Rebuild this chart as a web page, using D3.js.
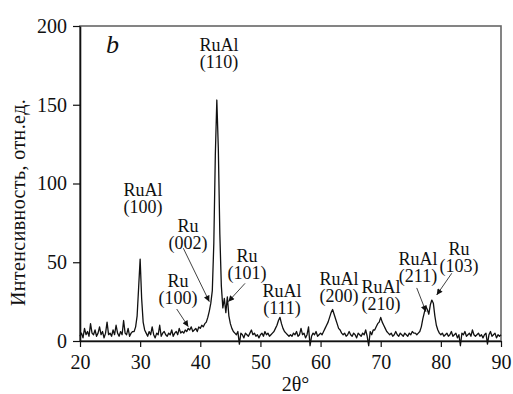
<!DOCTYPE html>
<html>
<head>
<meta charset="utf-8">
<script src="https://cdn.jsdelivr.net/npm/d3@7"></script>
<style>
  body { margin: 0; background: #fff; }
</style>
</head>
<body>
<figure id="xrd" style="margin:0"></figure>
<script>
// scan grid: 20..90 deg, step 0.25
const scanStart = 20, scanStep = 0.25;
// intensity, one row per degree (4 points each)
const intensity = [
  3, 5, 2, 8,      4, 6, 3, 11,     5, 4, 7, 3,      5, 9, 4, 6,      // 20-23
  2, 5, 12, 4,     5, 3, 7, 4,      10, 5, 3, 6,     4, 13, 5, 4,     // 24-27
  8, 3, 5, 6,      6, 9, 16, 34,    52, 27, 12, 7,   5, 3, 6, 4,      // 28-31
  9, 4, 2, 5,      4, 10, 3, 5,     6, 4, 3, 5,      4, 7, 3, 5,      // 32-35
  6, 4, 8, 5,      6, 5, 7, 6,      8, 7, 9, 6,      7, 8, 6, 9,      // 36-39
  8, 10, 9, 11,    12, 15, 19, 24,  32, 62, 118, 153, 122, 68, 35, 21, // 40-43
  27, 18, 28, 16,  11, 8, 6, 5,     4, 6, -2, 5,     4, 2, 5, 4,      // 44-47
  3, 5, 7, 4,      5, 3, 4, 2,      4, 5, 3, 6,      4, 5, 3, 4,      // 48-51
  5, 6, 8, 10,     13, 15, 11, 8,   6, 5, 4, 3,      4, 3, 5, 4,      // 52-55
  6, 3, 4, 8,      4, 5, 2, 4,      9, -3, 3, 5,     4, 6, 3, 4,      // 56-59
  5, 4, 6, 8,      10, 12, 15, 18,  20, 17, 14, 11,  8, 7, 5, 4,      // 60-63
  5, 3, 4, 6,      4, 3, 5, 4,      2, 5, 4, 3,      5, 4, 7, 3,      // 64-67
  -3, 6, 4, 7,     7, 9, 11, 12,    15, 12, 10, 8,   6, 5, 4, 5,      // 68-71
  3, 4, 6, 4,      3, 5, 4, 3,      5, 4, 3, 5,      4, 6, 5, 5,      // 72-75
  4, 5, 6, 9,      14, 18, 22, 20,  17, 23, 26, 24,  16, 10, 7, 5,    // 76-79
  4, 5, 3, 4,      5, 3, 4, 6,      3, 4, 5, 2,      4, -3, 5, 4,     // 80-83
  6, 3, 4, 5,      3, 7, 4, 3,      4, 5, 3, 4,      2, 4, 5, -2,     // 84-87
  4, 6, 3, 4,      5, 2, 4, 3,      4                                 // 88-90
];

const xTicks = [20, 30, 40, 50, 60, 70, 80, 90];
const yTicks = [0, 50, 100, 150, 200];

// peak annotations
const peakPhase = ['RuAl', 'RuAl', 'Ru', 'Ru', 'Ru', 'RuAl', 'RuAl', 'RuAl', 'RuAl', 'Ru'];
const peakHkl   = ['(100)', '(110)', '(100)', '(002)', '(101)', '(111)', '(200)', '(210)', '(211)', '(103)'];
// label anchor (2θ, intensity) of first line baseline
const labelAt = [[30.48, 92], [43.11, 184], [36.3, 34.5], [37.96, 69.5], [47.77, 50.3],
                 [53.59, 28.1], [63.07, 35.6], [70.05, 30.3], [76.2, 48.3], [83.02, 54.6]];
// leader arrows: [from 2θ, from I, to 2θ, to I], null = no arrow
const arrowAt = [null, null, [36.08, 20.3, 38.01, 9.1], [37.18, 58.9, 41.5, 25],
                 [47.44, 36.6, 44.66, 25], null, null, null,
                 [75.99, 33.7, 77.53, 18.6], [81.81, 43, 79.31, 29.2]];

const W = 513, H = 394;
const m = { left: 80, right: 12, top: 26, bottom: 53 };
const FONT = 'Liberation Serif';

const data = intensity.map((v, i) => ({ tt: scanStart + i * scanStep, v }));

const svg = d3.select('#xrd').append('svg')
  .attr('width', W).attr('height', H);

const x = d3.scaleLinear().domain([20, 90]).range([m.left, W - m.right]);
const y = d3.scaleLinear().domain([0, 200]).range([H - m.bottom, m.top]);

// frame (top/right)
svg.append('rect')
  .attr('x', x(20)).attr('y', y(200))
  .attr('width', x(90) - x(20)).attr('height', y(0) - y(200))
  .attr('fill', 'none').attr('stroke', '#666').attr('stroke-width', 1.6);

// pattern
svg.append('path')
  .datum(data)
  .attr('fill', 'none')
  .attr('stroke', '#111')
  .attr('stroke-width', 1.3)
  .attr('stroke-linejoin', 'round')
  .attr('d', d3.line().x(d => x(d.tt)).y(d => y(d.v)));

// axes
const xAxis = svg.append('g')
  .attr('transform', `translate(0,${y(0)})`)
  .call(d3.axisBottom(x).tickValues(xTicks).tickSize(6).tickPadding(8).tickSizeOuter(0));
const yAxis = svg.append('g')
  .attr('transform', `translate(${x(20)},0)`)
  .call(d3.axisLeft(y).tickValues(yTicks).tickSize(7).tickPadding(6).tickSizeOuter(0));

[xAxis, yAxis].forEach(g => {
  g.attr('font-family', FONT).attr('font-size', 20);
  g.select('.domain').attr('stroke', '#111').attr('stroke-width', 1.6);
  g.selectAll('.tick line').attr('stroke', '#111').attr('stroke-width', 1.2);
  g.selectAll('.tick text').attr('fill', '#111');
});

// axis titles
svg.append('text')
  .attr('x', (x(20) + x(90)) / 2 + 5).attr('y', 391)
  .attr('text-anchor', 'middle')
  .attr('font-family', FONT).attr('font-size', 20).attr('fill', '#111')
  .text('2θ°');

svg.append('text')
  .attr('transform', `translate(25,${(y(0) + y(200)) / 2 + 19}) rotate(-90)`)
  .attr('text-anchor', 'middle')
  .attr('font-family', FONT).attr('font-size', 20).attr('letter-spacing', 0.4)
  .attr('fill', '#111')
  .text('Интенсивность, отн.ед.');

// panel letter
svg.append('text')
  .attr('x', 106).attr('y', 53)
  .attr('font-family', FONT).attr('font-size', 26).attr('font-style', 'italic')
  .attr('fill', '#111')
  .text('b');

// arrowhead
svg.append('defs').append('marker')
  .attr('id', 'head')
  .attr('viewBox', '0 0 10 10')
  .attr('refX', 10).attr('refY', 5)
  .attr('markerWidth', 7).attr('markerHeight', 6)
  .attr('markerUnits', 'userSpaceOnUse')
  .attr('orient', 'auto')
  .append('path').attr('d', 'M0,0 L10,5 L0,10 Z').attr('fill', '#111');

peakPhase.forEach((p, i) => {
  const [lx, ly] = labelAt[i];
  const t = svg.append('text')
    .attr('x', x(lx)).attr('y', y(ly))
    .attr('text-anchor', 'middle')
    .attr('font-family', FONT).attr('font-size', 18).attr('fill', '#111');
  t.append('tspan').attr('x', x(lx)).text(p);
  t.append('tspan').attr('x', x(lx)).attr('dy', 17).text(peakHkl[i]);

  const a = arrowAt[i];
  if (a) {
    svg.append('line')
      .attr('x1', x(a[0])).attr('y1', y(a[1]))
      .attr('x2', x(a[2])).attr('y2', y(a[3]))
      .attr('stroke', '#111').attr('stroke-width', 0.8)
      .attr('marker-end', 'url(#head)');
  }
});
</script>
</body>
</html>
